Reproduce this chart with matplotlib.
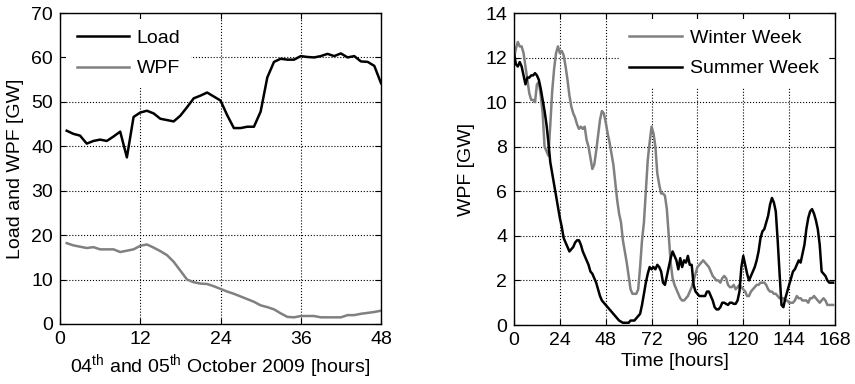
import numpy as np
import matplotlib
matplotlib.use('Agg')
import matplotlib.pyplot as plt

plt.rcParams['font.family'] = ['Liberation Sans', 'DejaVu Sans']
plt.rcParams['mathtext.fontset'] = 'custom'
plt.rcParams['mathtext.rm'] = 'Liberation Sans'
plt.rcParams['font.size'] = 14

# left panel: 04-05 October 2009, hourly
hours_day = np.arange(1, 49)
load = [43.5, 42.8, 42.4, 40.6, 41.2, 41.5, 41.2, 42.2, 43.3, 37.5,
        46.6, 47.6, 48.0, 47.4, 46.2, 45.9, 45.6, 46.9, 48.8, 50.8,
        51.4, 52.1, 51.2, 50.3, 47.0, 44.1, 44.1, 44.4, 44.4, 47.8,
        55.5, 59.0, 59.7, 59.5, 59.5, 60.3, 60.1, 60.0, 60.3, 60.8,
        60.3, 60.9, 60.0, 60.3, 59.1, 59.0, 58.1, 54.2]
wpf_day = [18.2, 17.7, 17.4, 17.1, 17.3, 16.8, 16.8, 16.8, 16.2, 16.5,
           16.8, 17.6, 17.9, 17.2, 16.4, 15.5, 14.0, 12.0, 10.0, 9.4,
           9.1, 9.0, 8.5, 7.9, 7.3, 6.8, 6.2, 5.6, 5.0, 4.2,
           3.8, 3.3, 2.4, 1.6, 1.5, 1.8, 1.8, 1.8, 1.5, 1.5,
           1.5, 1.5, 2.0, 2.0, 2.3, 2.5, 2.7, 3.0]

# right panel: one week, hourly
hours_week = np.arange(0, 168)
winter = [12.0, 12.4, 12.7, 12.5, 12.5, 12.2, 11.6, 11.0, 10.4, 10.1,
          10.1, 10.0, 10.8, 10.9, 10.3, 9.5, 8.0, 7.8, 7.6, 9.0,
          10.5, 11.5, 12.2, 12.5, 12.2, 12.3, 12.1, 11.6, 11.0, 10.3,
          9.8, 9.5, 9.3, 9.0, 8.8, 8.9, 8.8, 8.9, 8.3, 8.0,
          7.5, 7.0, 7.2, 7.8, 8.5, 9.2, 9.6, 9.5, 9.1, 8.6,
          8.2, 7.7, 7.2, 6.4, 5.6, 5.0, 4.6, 3.8, 3.3, 2.8,
          2.2, 1.6, 1.4, 1.4, 1.4, 1.6, 2.6, 3.8, 4.6, 6.0,
          7.4, 8.2, 8.9, 8.6, 8.0, 6.8, 6.3, 5.9, 5.9, 5.8,
          5.2, 4.0, 2.8, 2.1, 1.8, 1.6, 1.4, 1.2, 1.1, 1.1,
          1.2, 1.3, 1.5, 1.7, 2.0, 2.3, 2.6, 2.7, 2.8, 2.9,
          2.8, 2.7, 2.6, 2.4, 2.2, 2.1, 2.0, 2.0, 1.9, 2.1,
          2.2, 2.1, 1.8, 1.7, 1.7, 1.8, 1.6, 1.7, 1.8, 1.7,
          1.6, 1.5, 1.3, 1.3, 1.5, 1.6, 1.7, 1.8, 1.8, 1.9,
          1.9, 1.9, 1.8, 1.6, 1.5, 1.5, 1.4, 1.4, 1.3, 1.2,
          1.2, 1.2, 1.1, 1.1, 1.0, 1.0, 1.0, 1.1, 1.3, 1.2,
          1.2, 1.1, 1.1, 1.1, 1.0, 1.2, 1.2, 1.3, 1.2, 1.1,
          1.0, 1.1, 1.2, 1.1, 0.9, 0.9, 0.9, 0.9]
summer = [12.2, 11.7, 11.6, 11.8, 11.6, 11.2, 10.8, 11.1, 11.1, 11.2,
          11.2, 11.3, 11.2, 11.0, 10.6, 10.1, 9.6, 9.0, 8.2, 7.3,
          6.8, 6.3, 5.8, 5.3, 4.8, 4.4, 3.9, 3.7, 3.5, 3.3,
          3.4, 3.5, 3.7, 3.8, 3.8, 3.6, 3.3, 3.1, 2.9, 2.7,
          2.4, 2.3, 2.1, 1.9, 1.6, 1.3, 1.1, 1.0, 0.9, 0.8,
          0.7, 0.6, 0.5, 0.4, 0.3, 0.2, 0.15, 0.1, 0.1, 0.1,
          0.1, 0.2, 0.2, 0.2, 0.3, 0.4, 0.5, 0.9, 1.4, 1.9,
          2.3, 2.6, 2.5, 2.6, 2.5, 2.7, 2.6, 2.4, 1.9, 1.8,
          2.2, 2.6, 3.0, 3.3, 3.1, 2.9, 2.5, 3.0, 2.6, 2.9,
          2.8, 3.1, 2.7, 2.7, 1.8, 1.5, 1.4, 1.3, 1.3, 1.3,
          1.3, 1.5, 1.5, 1.3, 1.1, 0.8, 0.7, 0.7, 0.8, 1.0,
          1.0, 0.95, 0.9, 1.0, 1.0, 0.95, 0.95, 1.1, 1.5, 2.6,
          3.1, 2.7, 2.3, 2.0, 2.2, 2.4, 2.6, 2.9, 3.3, 3.9,
          4.2, 4.3, 4.6, 4.9, 5.4, 5.7, 5.5, 5.1, 3.8, 2.3,
          0.9, 0.8, 1.2, 1.5, 1.8, 2.1, 2.4, 2.5, 2.7, 2.9,
          2.8, 3.2, 3.6, 4.3, 4.8, 5.1, 5.2, 5.0, 4.7, 4.3,
          3.6, 2.4, 2.3, 2.2, 2.0, 1.9, 1.9, 1.9]

gray = '#808080'

fig = plt.figure(figsize=(8.55, 3.84), dpi=100)
fig.set_facecolor('w')
ax1 = fig.add_axes([60 / 855, 1 - 324 / 384, 321 / 855, 311 / 384])
ax2 = fig.add_axes([514 / 855, 1 - 325 / 384, 321 / 855, 312 / 384])

ax1.plot(hours_day, load, color='k', lw=1.8, label='Load')
ax1.plot(hours_day, wpf_day, color=gray, lw=1.8, label='WPF')
ax1.set_xlim(0, 48)
ax1.set_ylim(0, 70)
ax1.set_xticks(range(0, 49, 12))
ax1.set_yticks(range(0, 71, 10))
ax1.set_xlabel(r'04$^{\mathrm{th}}$ and 05$^{\mathrm{th}}$ October 2009 [hours]', labelpad=3)
ax1.set_ylabel('Load and WPF [GW]', labelpad=5)

ax2.plot(hours_week, winter, color=gray, lw=1.8, label='Winter Week')
ax2.plot(hours_week, summer, color='k', lw=1.8, label='Summer Week')
ax2.set_xlim(0, 168)
ax2.set_ylim(0, 14)
ax2.set_xticks(range(0, 169, 24))
ax2.set_yticks(range(0, 15, 2))
ax2.set_xlabel('Time [hours]', labelpad=3)
ax2.set_ylabel('WPF [GW]', labelpad=7)

for ax, loc in [(ax1, 'upper left'), (ax2, 'upper right')]:
    ax.grid(True, color='k', linestyle=':', linewidth=0.8)
    ax.tick_params(direction='in', top=True, right=True, length=4, width=0.8, pad=5)
    for s in ax.spines.values():
        s.set_linewidth(1.0)
    leg = ax.legend(loc=loc, frameon=True, fancybox=False, edgecolor='none',
                    facecolor='w', framealpha=1, handlelength=2.7,
                    handletextpad=0.4, labelspacing=0.65, borderpad=0.55,
                    borderaxespad=0.3)

fig.savefig('out.png', dpi=100)
